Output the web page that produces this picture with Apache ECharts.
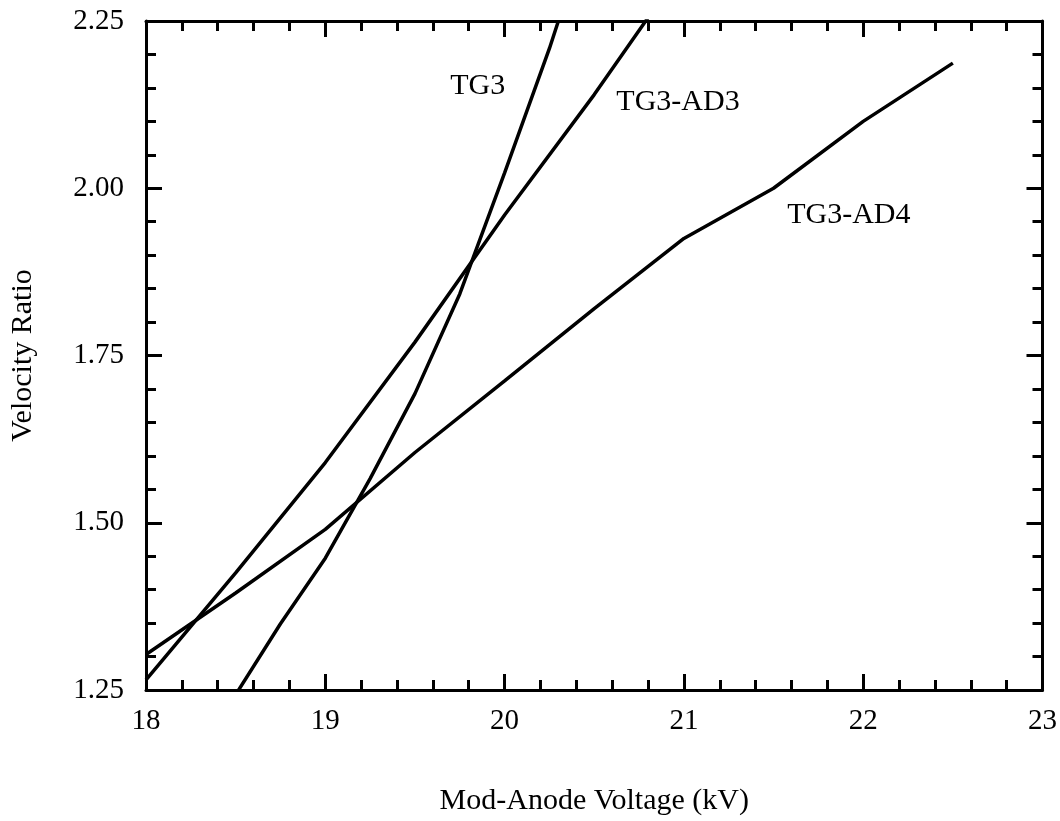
<!DOCTYPE html>
<html>
<head>
<meta charset="utf-8">
<script src="https://cdn.jsdelivr.net/npm/echarts@6/dist/echarts.min.js"></script>
<style>
  html, body { margin: 0; padding: 0; background: #fff; }
  #chart { width: 1060px; height: 821px; }
</style>
</head>
<body>
<div id="chart"></div>
<script>
// Velocity ratio vs. mod-anode voltage for three gun configurations
const tg3Voltage   = [18.5, 18.75, 19, 19.25, 19.5, 19.75, 20, 20.25, 20.3];
const tg3Ratio     = [1.243, 1.349, 1.447, 1.566, 1.693, 1.842, 2.023, 2.209, 2.25];

const tg3ad3Voltage = [18, 18.5, 19, 19.5, 20, 20.5, 20.8];
const tg3ad3Ratio   = [1.265, 1.425, 1.59, 1.77, 1.96, 2.14, 2.255];

const tg3ad4Voltage = [18, 18.5, 19, 19.5, 20, 20.5, 21, 21.5, 22, 22.5];
const tg3ad4Ratio   = [1.303, 1.395, 1.49, 1.605, 1.712, 1.82, 1.925, 2.00, 2.10, 2.187];

const xTicks = [18, 19, 20, 21, 22, 23];
const yTicks = [1.25, 1.50, 1.75, 2.00, 2.25];

const seriesNames = ['TG3', 'TG3-AD3', 'TG3-AD4'];

const FONT = 'Liberation Serif';
const INK = '#000';

function pairs(xs, ys) { return xs.map((x, i) => [x, ys[i]]); }

const chart = echarts.init(document.getElementById('chart'), null, { renderer: 'canvas' });

function xAxisDef(pos, showLabels) {
  return {
    type: 'value', position: pos,
    min: xTicks[0], max: xTicks[xTicks.length - 1], interval: 1,
    axisLine: { show: true, onZero: false, lineStyle: { color: INK, width: 3 } },
    axisTick: { show: true, inside: true, length: 16, lineStyle: { color: INK, width: 3 } },
    minorTick: { show: true, splitNumber: 5, length: 10, lineStyle: { color: INK, width: 3 } },
    splitLine: { show: false },
    axisLabel: { show: showLabels, fontFamily: FONT, fontSize: 29, color: INK, margin: 17 },
    name: showLabels ? 'Mod-Anode Voltage (kV)' : '',
    nameLocation: 'middle', nameGap: 96,
    nameTextStyle: { fontFamily: FONT, fontSize: 30, color: INK }
  };
}

function yAxisDef(pos, showLabels) {
  return {
    type: 'value', position: pos,
    min: yTicks[0], max: yTicks[yTicks.length - 1], interval: 0.25,
    axisLine: { show: true, onZero: false, lineStyle: { color: INK, width: 3 } },
    axisTick: { show: true, inside: true, length: 16, lineStyle: { color: INK, width: 3 } },
    minorTick: { show: true, splitNumber: 5, length: 10, lineStyle: { color: INK, width: 3 } },
    splitLine: { show: false },
    axisLabel: {
      show: showLabels, fontFamily: FONT, fontSize: 29, color: INK, margin: 22,
      padding: [8, 0, 0, 0],
      formatter: v => v.toFixed(2)
    },
    name: showLabels ? 'Velocity Ratio' : '',
    nameLocation: 'middle', nameGap: 108, nameRotate: 90,
    nameTextStyle: { fontFamily: FONT, fontSize: 30, color: INK }
  };
}

function lineSeries(name, data, labelCoord) {
  return {
    name, type: 'line', data,
    xAxisIndex: 0, yAxisIndex: 0,
    showSymbol: false, symbol: 'none', clip: true,
    lineStyle: { color: INK, width: 3.5 },
    animation: false,
    markPoint: {
      symbol: 'circle', symbolSize: 0, silent: true,
      label: {
        show: true, position: 'inside', formatter: name,
        fontFamily: FONT, fontSize: 30, color: INK
      },
      data: [{ coord: labelCoord }]
    }
  };
}

chart.setOption({
  animation: false,
  backgroundColor: '#fff',
  grid: { left: 145, right: 17, top: 21, bottom: 124, containLabel: false },
  xAxis: [xAxisDef('bottom', true), xAxisDef('top', false)],
  yAxis: [yAxisDef('left', true), yAxisDef('right', false)],
  series: [
    lineSeries(seriesNames[0], pairs(tg3Voltage, tg3Ratio), [19.85, 2.152]),
    lineSeries(seriesNames[1], pairs(tg3ad3Voltage, tg3ad3Ratio), [20.967, 2.128]),
    lineSeries(seriesNames[2], pairs(tg3ad4Voltage, tg3ad4Ratio), [21.92, 1.96])
  ]
});
</script>
</body>
</html>
